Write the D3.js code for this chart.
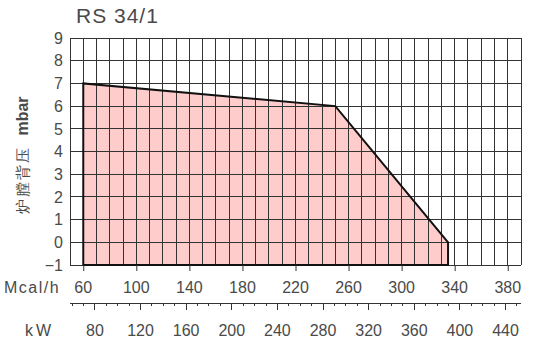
<!DOCTYPE html>
<html lang="zh">
<head>
  <meta charset="UTF-8">
  <title>RS 34/1</title>
  <script src="https://d3js.org/d3.v7.min.js"></script>
  <style>
    body { margin: 0; background: #fff; }
    svg { display: block; }
    text { font-family: "Liberation Sans", Arial, sans-serif; fill: #4a4a4a; }
  </style>
</head>
<body>
  <div id="chart"></div>
  <script>
    // data
    var mcalTicks = [60, 100, 140, 180, 220, 260, 300, 340, 380];
    var kwTicks = [80, 120, 160, 200, 240, 280, 320, 360, 400, 440];
    var kwMinor = d3.range(60, 451, 10);
    var mbarTicks = [-1, 0, 1, 2, 3, 4, 5, 6, 7, 8, 9];
    var curveMcal = [60, 60, 250, 335, 335];
    var curveMbar = [-1, 7, 6, 0, -1];

    var width = 533, height = 352;
    var svg = d3.select("#chart").append("svg")
      .attr("width", width).attr("height", height);

    var x = d3.scaleLinear().domain([50, 390]).range([70, 521]);
    var y = d3.scaleLinear().domain([-1, 9]).range([265, 38]);
    var kx = d3.scaleLinear().domain([50 * 1.163, 390 * 1.163]).range([70, 521]);

    // pink area
    var pts = curveMcal.map(function (m, i) { return [x(m), y(curveMbar[i])]; });
    svg.append("path")
      .attr("d", d3.line()(pts) + "Z")
      .attr("fill", "#ffcccc");

    // grid
    var grid = svg.append("g").attr("stroke", "#333").attr("stroke-width", 1).attr("shape-rendering", "crispEdges");
    grid.selectAll(".v").data(d3.range(50, 391, 10)).enter().append("line")
      .attr("x1", d => x(d)).attr("x2", d => x(d))
      .attr("y1", y(9)).attr("y2", y(-1));
    grid.selectAll(".h").data(mbarTicks).enter().append("line")
      .attr("x1", x(50)).attr("x2", x(390))
      .attr("y1", d => y(d)).attr("y2", d => y(d));

    // outline of the curve
    svg.append("path")
      .attr("d", d3.line()(pts) + "Z")
      .attr("fill", "none")
      .attr("stroke", "#111")
      .attr("stroke-width", 2);

    // Mcal/h axis
    var mAxis = svg.append("g").attr("transform", "translate(0," + y(-1) + ")");
    mAxis.call(d3.axisBottom(x).tickValues(mcalTicks).tickSize(6).tickFormat(""));
    mAxis.select(".domain").remove();
    mAxis.selectAll("line").attr("stroke", "#333");
    svg.selectAll(".mlab").data(mcalTicks).enter().append("text")
      .attr("x", d => x(d)).attr("y", 293)
      .attr("text-anchor", "middle").attr("font-size", 16)
      .text(d => d);
    svg.append("text").attr("x", 4).attr("y", 293).attr("font-size", 16)
      .attr("letter-spacing", 1.5).text("Mcal/h");

    // kW axis
    var kAxisY = 303;
    svg.append("line").attr("x1", 70).attr("x2", 521)
      .attr("y1", kAxisY).attr("y2", kAxisY)
      .attr("stroke", "#333").attr("shape-rendering", "crispEdges");
    svg.selectAll(".kmin").data(kwMinor).enter().append("line")
      .attr("x1", d => kx(d)).attr("x2", d => kx(d))
      .attr("y1", kAxisY).attr("y2", d => kwTicks.indexOf(d) >= 0 ? kAxisY + 7 : kAxisY + 3)
      .attr("stroke", "#333").attr("shape-rendering", "crispEdges");
    svg.selectAll(".klab").data(kwTicks).enter().append("text")
      .attr("x", d => kx(d)).attr("y", 336)
      .attr("text-anchor", "middle").attr("font-size", 16)
      .text(d => d);
    svg.append("text").attr("x", 25).attr("y", 336).attr("font-size", 16)
      .attr("letter-spacing", 3).text("kW");

    // mbar labels
    svg.selectAll(".ylab").data(mbarTicks).enter().append("text")
      .attr("x", 63).attr("y", d => y(d)).attr("dy", "0.36em")
      .attr("text-anchor", "end").attr("font-size", 16)
      .text(d => d < 0 ? "\u2212" + Math.abs(d) : d);

    // y title, two parts
    svg.append("text")
      .attr("transform", "translate(28,180) rotate(-90)")
      .attr("text-anchor", "middle")
      .attr("font-family", "Noto Sans CJK SC").attr("font-size", 15)
      .attr("letter-spacing", 2)
      .text("炉膛背压");
    svg.append("text")
      .attr("transform", "translate(28,116) rotate(-90)")
      .attr("text-anchor", "middle")
      .attr("font-weight", "bold").attr("font-size", 16).attr("fill", "#111")
      .text("mbar");

    // title
    svg.append("text").attr("x", 76).attr("y", 23).attr("font-size", 21)
      .attr("fill", "#333").attr("letter-spacing", 1).text("RS  34/1");
  </script>
</body>
</html>
